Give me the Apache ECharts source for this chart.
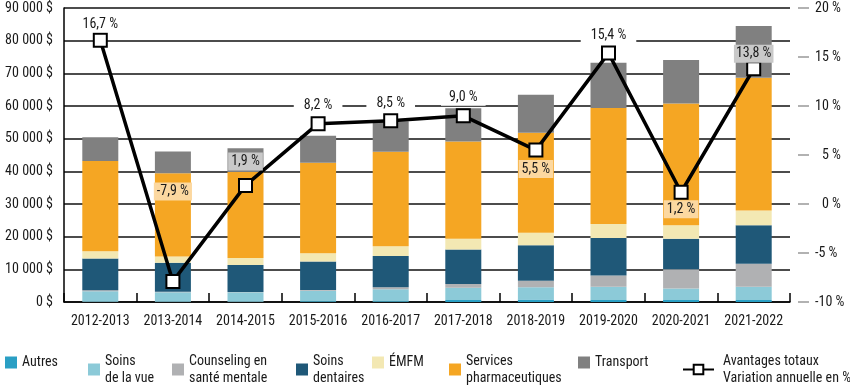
<!DOCTYPE html>
<html><head><meta charset="utf-8">
<script src="https://cdn.jsdelivr.net/npm/echarts@6/dist/echarts.min.js"></script>
<style>html,body{margin:0;padding:0;background:#fff}#c{width:850px;height:390px}</style>
</head><body><div id="c"></div>
<script>
const categories = ['2012-2013','2013-2014','2014-2015','2015-2016','2016-2017','2017-2018','2018-2019','2019-2020','2020-2021','2021-2022'];
const autres     = [100,100,100,200,200,600,800,600,600,600];
const soinsVue   = [3200,2900,2850,3250,3700,3800,3700,4100,3500,4100];
const counseling = [300,100,100,200,600,1100,2000,3400,5900,7000];
const dentaires  = [9700,8900,8250,8750,9600,10600,10900,11500,9400,11800];
const emfm       = [2200,1900,2200,2500,3000,3300,3800,4300,4100,4500];
const pharma     = [27700,25500,26300,27700,28900,29700,30600,35500,37300,40650];
const transport  = [7200,6700,7300,8300,9300,10200,11650,13850,13300,15850];
const variation  = [16.7,-7.9,1.9,8.2,8.5,9.0,5.5,15.4,1.2,13.8];
const leftTicks  = [0,10000,20000,30000,40000,50000,60000,70000,80000,90000];
const rightTicks = [-10,-5,0,5,10,15,20];

// label styling for each point (offset in px, background)
const LO = '#fcd8a0', LG = '#c9c9c9', W = '#ffffff';
const labelStyle = [
  {dy:-16, bg:W, pad:[1,4]},
  {dy:-90, bg:LO, pad:[2,3]},
  {dy:-24, bg:LG, pad:[2,3]},
  {dy:-18, bg:W, pad:[1,10]},
  {dy:-17, bg:W, pad:[1,10]},
  {dy:-18, bg:W, pad:[1,8]},
  {dy:19, bg:LO, pad:[2,3]},
  {dy:-18, bg:W, pad:[1,10]},
  {dy:17, bg:LO, pad:[2,3]},
  {dy:-15, bg:LG, pad:[2,2]}
];

const FONT = "'Liberation Sans Narrow','Roboto Condensed','DejaVu Sans Condensed','Arial Narrow',sans-serif";
const TXT = '#1a1a1a';

const colors = {
  'Autres':'#2a9fc4',
  'Soins de la vue':'#8ccad8',
  'Counseling en santé mentale':'#b0b1b3',
  'Soins dentaires':'#1f5878',
  'ÉMFM':'#f3e8b3',
  'Services pharmaceutiques':'#f5a623',
  'Transport':'#808080'
};
const legendText = {
  'Autres':'Autres',
  'Soins de la vue':'Soins\nde la vue',
  'Counseling en santé mentale':'Counseling en\nsanté mentale',
  'Soins dentaires':'Soins\ndentaires',
  'ÉMFM':'ÉMFM',
  'Services pharmaceutiques':'Services\npharmaceutiques',
  'Transport':'Transport',
  'Avantages totaux':'Avantages totaux\nVariation annuelle en %'
};
const stackSeries = [
  ['Autres', autres],
  ['Soins de la vue', soinsVue],
  ['Counseling en santé mentale', counseling],
  ['Soins dentaires', dentaires],
  ['ÉMFM', emfm],
  ['Services pharmaceutiques', pharma],
  ['Transport', transport]
];

const fmtMoney = v => String(v).replace(/\B(?=(\d{3})+(?!\d))/g, ' ') + ' $';
const fmtPct = v => v.toFixed(1).replace('.', ',') + ' %';

const series = stackSeries.map(([name, data]) => ({
  name, type:'bar', stack:'tot', data, barWidth:36,
  itemStyle:{color:colors[name]}, emphasis:{disabled:true}
}));
series.push({
  name:'Avantages totaux', type:'line', yAxisIndex:1, z:10,
  data: variation.map((v,i)=>({
    value:v,
    label:{show:true, position:'inside', offset:[0,labelStyle[i].dy],
      backgroundColor:labelStyle[i].bg, padding:labelStyle[i].pad,
      formatter:p=>fmtPct(p.value), color:TXT, fontSize:14, fontFamily:FONT}
  })),
  lineStyle:{color:'#000', width:3.5},
  symbol:'rect', symbolSize:13,
  itemStyle:{color:'#fff', borderColor:'#000', borderWidth:2},
  emphasis:{disabled:true}
});

// legend: one component per item
const legendPos = [
  ['Autres',5,false],
  ['Soins de la vue',88,true],
  ['Counseling en santé mentale',172,true],
  ['Soins dentaires',296,true],
  ['ÉMFM',372,false],
  ['Services pharmaceutiques',449,true],
  ['Transport',578,false],
  ['Avantages totaux',682,true]
];
const LH = 17;
const ICY = 360;
const legends = legendPos.map(([name,x,two]) => {
  const isLine = name === 'Avantages totaux';
  return {
    data:[name], left:x, top: ICY - 6,
    padding:0, itemGap:0,
    itemWidth: isLine ? 31 : 12, itemHeight: 12,
    icon: isLine ? undefined : 'rect',
    selectedMode:false,
    formatter: n => legendText[n],
    textStyle:{color:TXT, fontSize:14, fontFamily:FONT, lineHeight:LH,
      padding: two ? [0,0,-LH,isLine ? 4 : 0] : [0,0,0,0]}
  };
});

const chart = echarts.init(document.getElementById('c'), null, {renderer:'canvas'});
chart.setOption({
  animation:false,
  backgroundColor:'#fff',
  textStyle:{fontFamily:FONT},
  grid:{left:64, right:60, top:8, bottom:88, containLabel:false},
  legend: legends,
  xAxis:{
    type:'category', data:categories,
    axisLine:{lineStyle:{color:'#000', width:1.5}},
    axisTick:{show:true, inside:true, length:9, lineStyle:{color:'#000', width:1.5}},
    axisLabel:{color:TXT, fontSize:14, fontFamily:FONT, margin:12, interval:0}
  },
  yAxis:[
    {type:'value', min:leftTicks[0], max:leftTicks[leftTicks.length-1], interval:leftTicks[1]-leftTicks[0],
     axisLine:{show:true, lineStyle:{color:'#000', width:1.5}},
     axisTick:{show:false},
     splitLine:{lineStyle:{color:'#111', width:1.5}},
     axisLabel:{color:TXT, fontSize:14, fontFamily:FONT, margin:11, formatter:fmtMoney}},
    {type:'value', position:'right', offset:8, min:rightTicks[0], max:rightTicks[rightTicks.length-1], interval:rightTicks[1]-rightTicks[0],
     axisLine:{show:false},
     axisTick:{show:true, length:11, lineStyle:{color:'#999', width:1.5}},
     splitLine:{show:false},
     axisLabel:{color:TXT, fontSize:14, fontFamily:FONT, margin:17,
       formatter:v=> (Math.abs(v)<10 && v>=0 ? '\u2007' : '') + v + ' %'}}
  ],
  series
});
</script></body></html>
